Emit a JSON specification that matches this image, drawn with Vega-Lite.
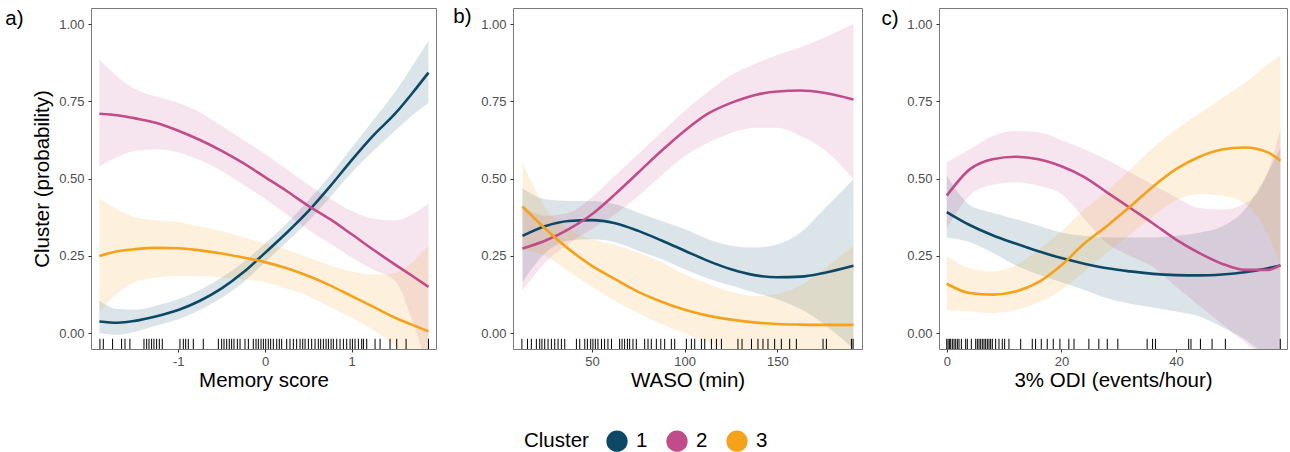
{
"$schema": "https://vega.github.io/schema/vega-lite/v6.json",
"padding": {"left": 4, "top": 6, "right": 2, "bottom": 2},
"background": "white",
"datasets": {
"a": [
{"x":-1.91,"cluster":"1","fit":0.038,"lo":0.0,"hi":0.105},
{"x":-1.7,"cluster":"1","fit":0.034,"lo":-0.005,"hi":0.078},
{"x":-1.5,"cluster":"1","fit":0.04,"lo":0.005,"hi":0.076},
{"x":-1.25,"cluster":"1","fit":0.055,"lo":0.025,"hi":0.09},
{"x":-1.0,"cluster":"1","fit":0.075,"lo":0.045,"hi":0.11},
{"x":-0.75,"cluster":"1","fit":0.105,"lo":0.075,"hi":0.14},
{"x":-0.5,"cluster":"1","fit":0.145,"lo":0.115,"hi":0.18},
{"x":-0.25,"cluster":"1","fit":0.197,"lo":0.165,"hi":0.23},
{"x":0,"cluster":"1","fit":0.26,"lo":0.23,"hi":0.29},
{"x":0.25,"cluster":"1","fit":0.325,"lo":0.295,"hi":0.355},
{"x":0.5,"cluster":"1","fit":0.395,"lo":0.362,"hi":0.43},
{"x":0.75,"cluster":"1","fit":0.475,"lo":0.44,"hi":0.51},
{"x":1.0,"cluster":"1","fit":0.56,"lo":0.52,"hi":0.6},
{"x":1.25,"cluster":"1","fit":0.64,"lo":0.59,"hi":0.69},
{"x":1.5,"cluster":"1","fit":0.71,"lo":0.655,"hi":0.78},
{"x":1.7,"cluster":"1","fit":0.777,"lo":0.705,"hi":0.865},
{"x":1.885,"cluster":"1","fit":0.843,"lo":0.745,"hi":0.945},
{"x":-1.91,"cluster":"2","fit":0.71,"lo":0.54,"hi":0.885},
{"x":-1.7,"cluster":"2","fit":0.705,"lo":0.57,"hi":0.83},
{"x":-1.5,"cluster":"2","fit":0.695,"lo":0.59,"hi":0.79},
{"x":-1.25,"cluster":"2","fit":0.68,"lo":0.595,"hi":0.765},
{"x":-1.0,"cluster":"2","fit":0.655,"lo":0.585,"hi":0.745},
{"x":-0.75,"cluster":"2","fit":0.625,"lo":0.56,"hi":0.715},
{"x":-0.5,"cluster":"2","fit":0.59,"lo":0.525,"hi":0.67},
{"x":-0.25,"cluster":"2","fit":0.55,"lo":0.48,"hi":0.625},
{"x":0,"cluster":"2","fit":0.505,"lo":0.435,"hi":0.58},
{"x":0.25,"cluster":"2","fit":0.46,"lo":0.385,"hi":0.53},
{"x":0.5,"cluster":"2","fit":0.412,"lo":0.335,"hi":0.48},
{"x":0.75,"cluster":"2","fit":0.369,"lo":0.29,"hi":0.435},
{"x":1.0,"cluster":"2","fit":0.32,"lo":0.245,"hi":0.395},
{"x":1.25,"cluster":"2","fit":0.27,"lo":0.205,"hi":0.37},
{"x":1.5,"cluster":"2","fit":0.222,"lo":0.17,"hi":0.365},
{"x":1.7,"cluster":"2","fit":0.185,"lo":0.04,"hi":0.385},
{"x":1.885,"cluster":"2","fit":0.15,"lo":-0.12,"hi":0.42},
{"x":-1.91,"cluster":"3","fit":0.25,"lo":0.07,"hi":0.435},
{"x":-1.7,"cluster":"3","fit":0.265,"lo":0.13,"hi":0.4},
{"x":-1.5,"cluster":"3","fit":0.272,"lo":0.165,"hi":0.375},
{"x":-1.25,"cluster":"3","fit":0.276,"lo":0.18,"hi":0.365},
{"x":-1.0,"cluster":"3","fit":0.275,"lo":0.185,"hi":0.36},
{"x":-0.75,"cluster":"3","fit":0.268,"lo":0.185,"hi":0.345},
{"x":-0.5,"cluster":"3","fit":0.258,"lo":0.18,"hi":0.33},
{"x":-0.25,"cluster":"3","fit":0.245,"lo":0.175,"hi":0.31},
{"x":0,"cluster":"3","fit":0.23,"lo":0.165,"hi":0.29},
{"x":0.25,"cluster":"3","fit":0.21,"lo":0.145,"hi":0.27},
{"x":0.5,"cluster":"3","fit":0.185,"lo":0.12,"hi":0.245},
{"x":0.75,"cluster":"3","fit":0.155,"lo":0.085,"hi":0.22},
{"x":1.0,"cluster":"3","fit":0.12,"lo":0.05,"hi":0.2},
{"x":1.25,"cluster":"3","fit":0.085,"lo":0.01,"hi":0.19},
{"x":1.5,"cluster":"3","fit":0.05,"lo":-0.04,"hi":0.195},
{"x":1.7,"cluster":"3","fit":0.027,"lo":-0.09,"hi":0.23},
{"x":1.885,"cluster":"3","fit":0.006,"lo":-0.13,"hi":0.285}
],
"b": [
{"x":12.5,"cluster":"1","fit":0.315,"lo":0.165,"hi":0.47},
{"x":25,"cluster":"1","fit":0.347,"lo":0.26,"hi":0.433},
{"x":37.5,"cluster":"1","fit":0.363,"lo":0.3,"hi":0.428},
{"x":50,"cluster":"1","fit":0.366,"lo":0.304,"hi":0.428},
{"x":62.5,"cluster":"1","fit":0.356,"lo":0.294,"hi":0.417},
{"x":75,"cluster":"1","fit":0.331,"lo":0.267,"hi":0.39},
{"x":87.5,"cluster":"1","fit":0.3,"lo":0.24,"hi":0.363},
{"x":100,"cluster":"1","fit":0.267,"lo":0.207,"hi":0.337},
{"x":112.5,"cluster":"1","fit":0.234,"lo":0.177,"hi":0.304},
{"x":125,"cluster":"1","fit":0.207,"lo":0.154,"hi":0.283},
{"x":137.5,"cluster":"1","fit":0.188,"lo":0.132,"hi":0.277},
{"x":150,"cluster":"1","fit":0.181,"lo":0.11,"hi":0.288},
{"x":162.5,"cluster":"1","fit":0.183,"lo":0.078,"hi":0.326},
{"x":175,"cluster":"1","fit":0.195,"lo":0.03,"hi":0.4},
{"x":191,"cluster":"1","fit":0.218,"lo":-0.05,"hi":0.498},
{"x":12.5,"cluster":"2","fit":0.274,"lo":0.138,"hi":0.41},
{"x":25,"cluster":"2","fit":0.3,"lo":0.23,"hi":0.38},
{"x":37.5,"cluster":"2","fit":0.337,"lo":0.29,"hi":0.39},
{"x":50,"cluster":"2","fit":0.385,"lo":0.337,"hi":0.44},
{"x":62.5,"cluster":"2","fit":0.45,"lo":0.385,"hi":0.51},
{"x":75,"cluster":"2","fit":0.52,"lo":0.444,"hi":0.58},
{"x":87.5,"cluster":"2","fit":0.59,"lo":0.51,"hi":0.65},
{"x":100,"cluster":"2","fit":0.655,"lo":0.573,"hi":0.72},
{"x":112.5,"cluster":"2","fit":0.71,"lo":0.616,"hi":0.78},
{"x":125,"cluster":"2","fit":0.745,"lo":0.648,"hi":0.835},
{"x":137.5,"cluster":"2","fit":0.77,"lo":0.665,"hi":0.87},
{"x":150,"cluster":"2","fit":0.782,"lo":0.665,"hi":0.9},
{"x":162.5,"cluster":"2","fit":0.785,"lo":0.638,"hi":0.925},
{"x":175,"cluster":"2","fit":0.778,"lo":0.595,"hi":0.955},
{"x":191,"cluster":"2","fit":0.756,"lo":0.498,"hi":1.0},
{"x":12.5,"cluster":"3","fit":0.41,"lo":0.27,"hi":0.552},
{"x":25,"cluster":"3","fit":0.337,"lo":0.25,"hi":0.406},
{"x":37.5,"cluster":"3","fit":0.272,"lo":0.2,"hi":0.337},
{"x":50,"cluster":"3","fit":0.218,"lo":0.15,"hi":0.304},
{"x":62.5,"cluster":"3","fit":0.175,"lo":0.105,"hi":0.285},
{"x":75,"cluster":"3","fit":0.134,"lo":0.065,"hi":0.26},
{"x":87.5,"cluster":"3","fit":0.102,"lo":0.03,"hi":0.23},
{"x":100,"cluster":"3","fit":0.076,"lo":0.0,"hi":0.19},
{"x":112.5,"cluster":"3","fit":0.057,"lo":-0.03,"hi":0.16},
{"x":125,"cluster":"3","fit":0.044,"lo":-0.06,"hi":0.134},
{"x":137.5,"cluster":"3","fit":0.035,"lo":-0.08,"hi":0.12},
{"x":150,"cluster":"3","fit":0.03,"lo":-0.1,"hi":0.127},
{"x":162.5,"cluster":"3","fit":0.028,"lo":-0.12,"hi":0.154},
{"x":175,"cluster":"3","fit":0.027,"lo":-0.14,"hi":0.208},
{"x":191,"cluster":"3","fit":0.027,"lo":-0.16,"hi":0.283}
],
"c": [
{"x":0,"cluster":"1","fit":0.392,"lo":0.31,"hi":0.51},
{"x":4,"cluster":"1","fit":0.35,"lo":0.295,"hi":0.415},
{"x":8,"cluster":"1","fit":0.317,"lo":0.26,"hi":0.39},
{"x":12,"cluster":"1","fit":0.29,"lo":0.22,"hi":0.369},
{"x":16,"cluster":"1","fit":0.265,"lo":0.19,"hi":0.348},
{"x":20,"cluster":"1","fit":0.243,"lo":0.165,"hi":0.326},
{"x":24,"cluster":"1","fit":0.225,"lo":0.14,"hi":0.315},
{"x":28,"cluster":"1","fit":0.21,"lo":0.113,"hi":0.31},
{"x":32,"cluster":"1","fit":0.2,"lo":0.095,"hi":0.31},
{"x":36,"cluster":"1","fit":0.192,"lo":0.083,"hi":0.31},
{"x":40,"cluster":"1","fit":0.188,"lo":0.07,"hi":0.315},
{"x":44,"cluster":"1","fit":0.187,"lo":0.055,"hi":0.325},
{"x":48,"cluster":"1","fit":0.19,"lo":0.02,"hi":0.345},
{"x":52,"cluster":"1","fit":0.197,"lo":-0.02,"hi":0.4},
{"x":56,"cluster":"1","fit":0.21,"lo":-0.08,"hi":0.52},
{"x":58.2,"cluster":"1","fit":0.219,"lo":-0.12,"hi":0.6},
{"x":0,"cluster":"2","fit":0.445,"lo":0.34,"hi":0.552},
{"x":4,"cluster":"2","fit":0.53,"lo":0.445,"hi":0.595},
{"x":8,"cluster":"2","fit":0.563,"lo":0.48,"hi":0.638},
{"x":12,"cluster":"2","fit":0.571,"lo":0.488,"hi":0.654},
{"x":16,"cluster":"2","fit":0.563,"lo":0.477,"hi":0.65},
{"x":20,"cluster":"2","fit":0.54,"lo":0.45,"hi":0.625},
{"x":24,"cluster":"2","fit":0.505,"lo":0.37,"hi":0.595},
{"x":28,"cluster":"2","fit":0.455,"lo":0.29,"hi":0.56},
{"x":32,"cluster":"2","fit":0.405,"lo":0.25,"hi":0.52},
{"x":36,"cluster":"2","fit":0.355,"lo":0.215,"hi":0.48},
{"x":40,"cluster":"2","fit":0.303,"lo":0.15,"hi":0.44},
{"x":44,"cluster":"2","fit":0.26,"lo":0.09,"hi":0.405},
{"x":48,"cluster":"2","fit":0.225,"lo":0.03,"hi":0.4},
{"x":52,"cluster":"2","fit":0.205,"lo":-0.03,"hi":0.42},
{"x":56,"cluster":"2","fit":0.205,"lo":-0.09,"hi":0.52},
{"x":58.2,"cluster":"2","fit":0.22,"lo":-0.12,"hi":0.66},
{"x":0,"cluster":"3","fit":0.16,"lo":0.075,"hi":0.25},
{"x":4,"cluster":"3","fit":0.13,"lo":0.07,"hi":0.21},
{"x":8,"cluster":"3","fit":0.125,"lo":0.065,"hi":0.2},
{"x":12,"cluster":"3","fit":0.135,"lo":0.075,"hi":0.22},
{"x":16,"cluster":"3","fit":0.165,"lo":0.1,"hi":0.27},
{"x":20,"cluster":"3","fit":0.22,"lo":0.14,"hi":0.33},
{"x":24,"cluster":"3","fit":0.29,"lo":0.2,"hi":0.4},
{"x":28,"cluster":"3","fit":0.348,"lo":0.26,"hi":0.46},
{"x":32,"cluster":"3","fit":0.41,"lo":0.32,"hi":0.53},
{"x":36,"cluster":"3","fit":0.475,"lo":0.38,"hi":0.6},
{"x":40,"cluster":"3","fit":0.531,"lo":0.43,"hi":0.66},
{"x":44,"cluster":"3","fit":0.57,"lo":0.45,"hi":0.71},
{"x":48,"cluster":"3","fit":0.594,"lo":0.445,"hi":0.76},
{"x":52,"cluster":"3","fit":0.601,"lo":0.42,"hi":0.81},
{"x":56,"cluster":"3","fit":0.585,"lo":0.32,"hi":0.87},
{"x":58.2,"cluster":"3","fit":0.558,"lo":0.22,"hi":0.9}
],
"rugA": [{"x":-1.904},{"x":-1.865},{"x":-1.758},{"x":-1.654},{"x":-1.615},{"x":-1.558},{"x":-1.396},{"x":-1.365},{"x":-1.338},{"x":-1.308},{"x":-1.281},{"x":-1.25},{"x":-1.219},{"x":-1.185},{"x":-0.981},{"x":-0.942},{"x":-0.915},{"x":-0.885},{"x":-0.827},{"x":-0.712},{"x":-0.538},{"x":-0.5},{"x":-0.473},{"x":-0.442},{"x":-0.412},{"x":-0.385},{"x":-0.358},{"x":-0.319},{"x":-0.288},{"x":-0.231},{"x":-0.192},{"x":-0.135},{"x":-0.104},{"x":-0.077},{"x":-0.046},{"x":-0.019},{"x":0.008},{"x":0.038},{"x":0.065},{"x":0.096},{"x":0.135},{"x":0.165},{"x":0.192},{"x":0.25},{"x":0.288},{"x":0.327},{"x":0.365},{"x":0.404},{"x":0.435},{"x":0.462},{"x":0.5},{"x":0.538},{"x":0.577},{"x":0.615},{"x":0.642},{"x":0.673},{"x":0.704},{"x":0.731},{"x":0.762},{"x":0.788},{"x":0.827},{"x":0.865},{"x":0.904},{"x":0.942},{"x":0.981},{"x":1.008},{"x":1.038},{"x":1.077},{"x":1.115},{"x":1.135},{"x":1.173},{"x":1.269},{"x":1.327},{"x":1.442},{"x":1.519},{"x":1.627},{"x":1.885}],
"rugB": [{"x":12.2},{"x":15.2},{"x":17.3},{"x":20.0},{"x":21.8},{"x":23.0},{"x":24.5},{"x":26.3},{"x":28.1},{"x":29.9},{"x":31.7},{"x":33.5},{"x":35.3},{"x":41.6},{"x":43.4},{"x":46.1},{"x":47.5},{"x":49.3},{"x":50.5},{"x":51.8},{"x":53.2},{"x":55.1},{"x":56.8},{"x":58.6},{"x":60.5},{"x":64.9},{"x":66.2},{"x":67.6},{"x":69.1},{"x":70.3},{"x":72.1},{"x":73.9},{"x":78.4},{"x":80.2},{"x":82.0},{"x":84.7},{"x":87.1},{"x":89.2},{"x":92.8},{"x":94.6},{"x":100.9},{"x":103.6},{"x":105.4},{"x":109.0},{"x":110.8},{"x":114.4},{"x":117.1},{"x":119.8},{"x":128.7},{"x":130.9},{"x":136.0},{"x":139.5},{"x":142.2},{"x":144.9},{"x":148.5},{"x":152.1},{"x":156.6},{"x":160.2},{"x":174.6},{"x":176.4},{"x":189.9},{"x":190.8}],
"rugC": [{"x":0},{"x":0.23},{"x":0.46},{"x":0.69},{"x":0.98},{"x":1.27},{"x":1.56},{"x":1.85},{"x":2.14},{"x":2.55},{"x":3.3},{"x":3.59},{"x":4.29},{"x":5.05},{"x":5.34},{"x":5.63},{"x":5.92},{"x":6.21},{"x":6.5},{"x":6.79},{"x":7.08},{"x":7.37},{"x":7.66},{"x":7.95},{"x":8.53},{"x":9.11},{"x":9.69},{"x":10.1},{"x":10.85},{"x":12.9},{"x":14.92},{"x":15.5},{"x":16.49},{"x":17.53},{"x":18.58},{"x":19.74},{"x":21.3},{"x":22.2},{"x":24.79},{"x":26.53},{"x":28.0},{"x":29.84},{"x":34.95},{"x":35.9},{"x":36.4},{"x":42.2},{"x":42.6},{"x":44.25},{"x":46.28},{"x":48.6},{"x":58.18}]
},
"spacing": 77,
"bounds": "flush",
"hconcat": [
{
"width": 345, "height": 341,
"title": {"text": "a)", "orient": "left", "anchor": "end", "angle": 0, "align": "right", "baseline": "alphabetic", "dy": 17, "offset": -9},
"layer": [
{"data": {"name": "a"}, "mark": {"type": "area", "opacity": 0.15, "clip": true, "interpolate": "monotone"},
 "encoding": {
  "x": {"field": "x", "type": "quantitative", "scale": {"domain": [-2.007, 1.972], "nice": false, "zero": false}, "axis": {"values": [-1, 0, 1], "format": "d", "labelExpr": "replace(datum.label, '\u2212', '-')", "title": "Memory score"}},
  "y": {"field": "lo", "type": "quantitative", "scale": {"domain": [-0.051, 1.052], "nice": false, "zero": false}, "axis": {"values": [0, 0.25, 0.5, 0.75, 1], "format": ".2f", "title": "Cluster (probability)"}},
  "y2": {"field": "hi"},
  "color": {"field": "cluster", "type": "nominal", "title": "Cluster", "scale": {"domain": ["1", "2", "3"], "range": ["#0D4966", "#C04C8A", "#F4A11C"]}}
 }},
{"data": {"name": "a"}, "mark": {"type": "line", "strokeWidth": 2.6, "clip": true, "interpolate": "monotone"},
 "encoding": {
  "x": {"field": "x", "type": "quantitative"},
  "y": {"field": "fit", "type": "quantitative"},
  "color": {"field": "cluster", "type": "nominal", "title": "Cluster"}
 }},
{"data": {"name": "rugA"}, "mark": {"type": "rule", "color": "black", "strokeWidth": 1},
 "encoding": {"x": {"field": "x", "type": "quantitative"}, "y": {"datum": -0.051}, "y2": {"datum": -0.018}}}
]
},
{
"width": 349, "height": 341,
"title": {"text": "b)", "orient": "left", "anchor": "end", "angle": 0, "align": "right", "baseline": "alphabetic", "dy": 15, "offset": -9},
"layer": [
{"data": {"name": "b"}, "mark": {"type": "area", "opacity": 0.15, "clip": true, "interpolate": "monotone"},
 "encoding": {
  "x": {"field": "x", "type": "quantitative", "scale": {"domain": [7.4, 195.6], "nice": false, "zero": false}, "axis": {"values": [50, 100, 150], "title": "WASO (min)"}},
  "y": {"field": "lo", "type": "quantitative", "scale": {"domain": [-0.051, 1.052], "nice": false, "zero": false}, "axis": {"values": [0, 0.25, 0.5, 0.75, 1], "format": ".2f", "title": null}},
  "y2": {"field": "hi"},
  "color": {"field": "cluster", "type": "nominal", "title": "Cluster"}
 }},
{"data": {"name": "b"}, "mark": {"type": "line", "strokeWidth": 2.6, "clip": true, "interpolate": "monotone"},
 "encoding": {
  "x": {"field": "x", "type": "quantitative"},
  "y": {"field": "fit", "type": "quantitative"},
  "color": {"field": "cluster", "type": "nominal", "title": "Cluster"}
 }},
{"data": {"name": "rugB"}, "mark": {"type": "rule", "color": "black", "strokeWidth": 1},
 "encoding": {"x": {"field": "x", "type": "quantitative"}, "y": {"datum": -0.051}, "y2": {"datum": -0.018}}}
]
},
{
"width": 348, "height": 341,
"title": {"text": "c)", "orient": "left", "anchor": "end", "angle": 0, "align": "right", "baseline": "alphabetic", "dy": 17, "offset": -9},
"layer": [
{"data": {"name": "c"}, "mark": {"type": "area", "opacity": 0.15, "clip": true, "interpolate": "monotone"},
 "encoding": {
  "x": {"field": "x", "type": "quantitative", "scale": {"domain": [-1.35, 59.35], "nice": false, "zero": false}, "axis": {"values": [0, 20, 40], "title": "3% ODI (events/hour)"}},
  "y": {"field": "lo", "type": "quantitative", "scale": {"domain": [-0.051, 1.052], "nice": false, "zero": false}, "axis": {"values": [0, 0.25, 0.5, 0.75, 1], "format": ".2f", "title": null}},
  "y2": {"field": "hi"},
  "color": {"field": "cluster", "type": "nominal", "title": "Cluster"}
 }},
{"data": {"name": "c"}, "mark": {"type": "line", "strokeWidth": 2.6, "clip": true, "interpolate": "monotone"},
 "encoding": {
  "x": {"field": "x", "type": "quantitative"},
  "y": {"field": "fit", "type": "quantitative"},
  "color": {"field": "cluster", "type": "nominal", "title": "Cluster"}
 }},
{"data": {"name": "rugC"}, "mark": {"type": "rule", "color": "black", "strokeWidth": 1},
 "encoding": {"x": {"field": "x", "type": "quantitative"}, "y": {"datum": -0.051}, "y2": {"datum": -0.018}}}
]
}
],
"resolve": {"scale": {"color": "shared"}, "legend": {"color": "shared"}},
"config": {
 "font": "Liberation Sans",
 "view": {"stroke": "#7a7a7a", "strokeWidth": 1},
 "title": {"fontSize": 20.5, "fontWeight": "normal", "color": "black", "font": "Liberation Sans"},
 "axis": {"domain": false, "grid": false, "tickColor": "#333333", "tickSize": 3, "tickWidth": 1, "labelColor": "#4d4d4d", "labelFontSize": 13, "labelPadding": 4, "titleFontSize": 20.5, "titleFontWeight": "normal", "titleColor": "black"},
 "axisY": {"titlePadding": 6},
 "axisX": {"titlePadding": 2.5, "labelPadding": 3},
 "legend": {
  "orient": "bottom", "direction": "horizontal", "titleOrient": "left", "titleAnchor": "middle",
  "layout": {"bottom": {"anchor": "middle"}},
  "symbolType": "circle", "symbolSize": 452, "symbolStrokeWidth": 0, "symbolOpacity": 1,
  "labelFontSize": 20.5, "titleFontSize": 20.5, "titleFontWeight": "normal", "labelColor": "black", "titleColor": "black",
  "columnPadding": 18, "labelOffset": 8, "titlePadding": 17, "offset": 38
 }
}
}
